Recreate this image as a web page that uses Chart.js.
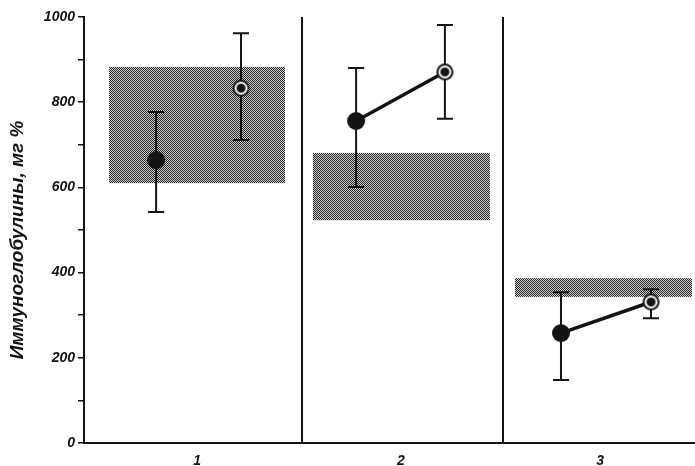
<!DOCTYPE html>
<html>
<head>
<meta charset="utf-8">
<script src="https://cdn.jsdelivr.net/npm/chart.js@4.4.1/dist/chart.umd.min.js"></script>
<style>
  html, body { margin: 0; padding: 0; background: #fff; }
  #wrap { width: 695px; height: 466px; }
</style>
</head>
<body>
<div id="wrap"><canvas id="chart" width="695" height="466"></canvas></div>
<script>
/* Immunoglobulins, mg% - three groups, before (filled) / after (ring) */

const groups = ['1', '2', '3'];
const groupX = [0.555, 1.556, 2.534];
const dividerX = [1.07, 2.057];
const yTitle = 'Иммуноглобулины, мг %';

// filled circles
const beforeX = [0.354, 1.336, 2.342];
const beforeVal = [664, 756, 258];
const beforeLow = [542, 601, 148];
const beforeHigh = [777, 880, 354];

// ring circles
const afterX = [0.771, 1.772, 2.784];
const afterVal = [833, 871, 331];
const afterLow = [711, 761, 293];
const afterHigh = [962, 981, 361];

// shaded normal ranges
const normFrom = [0.123, 1.124, 2.116];
const normTo = [0.987, 1.993, 2.985];
const normLow = [610, 523, 343];
const normHigh = [883, 681, 387];

const joined = [false, true, true];

const INK = '#141414';
const FAMILY = '"Liberation Sans", Arial, sans-serif';

function stipple(ctx) {
  const c = document.createElement('canvas');
  c.width = 2; c.height = 2;
  const g = c.getContext('2d');
  g.fillStyle = '#d0d0d0';
  g.fillRect(0, 0, 2, 2);
  g.fillStyle = '#242424';
  g.fillRect(0, 0, 1, 1);
  g.fillRect(1, 1, 1, 1);
  return ctx.createPattern(c, 'repeat');
}

function dotImg(r) {
  const c = document.createElement('canvas');
  c.width = c.height = 2 * r + 2;
  const g = c.getContext('2d');
  g.fillStyle = INK;
  g.beginPath(); g.arc(r + 1, r + 1, r, 0, Math.PI * 2); g.fill();
  return c;
}

function ringImg(r) {
  const c = document.createElement('canvas');
  c.width = c.height = 2 * r + 2;
  const g = c.getContext('2d');
  const m = r + 1;
  g.fillStyle = INK;
  g.beginPath(); g.arc(m, m, r, 0, Math.PI * 2); g.fill();
  g.fillStyle = '#fff';
  g.beginPath(); g.arc(m, m, r - 2, 0, Math.PI * 2); g.fill();
  g.fillStyle = INK;
  g.beginPath(); g.arc(m, m, r - 4, 0, Math.PI * 2); g.fill();
  return c;
}

const panels = {
  id: 'panels',
  beforeDatasetsDraw(chart) {
    const { ctx, chartArea, scales: { x, y } } = chart;
    ctx.save();

    // normal ranges
    ctx.fillStyle = stipple(ctx);
    normLow.forEach((lo, i) => {
      const x0 = x.getPixelForValue(normFrom[i]);
      const x1 = x.getPixelForValue(normTo[i]);
      const y0 = y.getPixelForValue(normHigh[i]);
      const y1 = y.getPixelForValue(lo);
      ctx.fillRect(x0, y0, x1 - x0, y1 - y0);
    });

    // dividers
    ctx.strokeStyle = INK;
    ctx.lineWidth = 2;
    dividerX.forEach(v => {
      const px = Math.round(x.getPixelForValue(v));
      ctx.beginPath();
      ctx.moveTo(px, chartArea.top);
      ctx.lineTo(px, chartArea.bottom);
      ctx.stroke();
    });

    // error bars
    const bar = (xv, lo, hi) => {
      const px = x.getPixelForValue(xv);
      const pl = y.getPixelForValue(lo);
      const ph = y.getPixelForValue(hi);
      ctx.beginPath();
      ctx.moveTo(px, pl); ctx.lineTo(px, ph);
      ctx.moveTo(px - 8, pl); ctx.lineTo(px + 8, pl);
      ctx.moveTo(px - 8, ph); ctx.lineTo(px + 8, ph);
      ctx.stroke();
    };
    beforeX.forEach((xv, i) => bar(xv, beforeLow[i], beforeHigh[i]));
    afterX.forEach((xv, i) => bar(xv, afterLow[i], afterHigh[i]));

    ctx.restore();
  },
  afterDraw(chart) {
    // axis title, sits a little below the middle like the original
    const { ctx } = chart;
    ctx.save();
    ctx.translate(18, 240);
    ctx.rotate(-Math.PI / 2);
    ctx.font = `italic bold 19px ${FAMILY}`;
    ctx.fillStyle = INK;
    ctx.textAlign = 'center';
    ctx.textBaseline = 'middle';
    ctx.fillText(yTitle, 0, 0);
    ctx.restore();
  }
};

const lineSets = [];
joined.forEach((on, i) => {
  if (!on) return;
  lineSets.push({
    data: [{ x: beforeX[i], y: beforeVal[i] }, { x: afterX[i], y: afterVal[i] }],
    showLine: true,
    borderColor: INK,
    borderWidth: 3.5,
    pointRadius: 0,
    order: 3
  });
});

const font = { family: FAMILY, style: 'italic', weight: 'bold', size: 14 };

new Chart(document.getElementById('chart'), {
  type: 'scatter',
  data: {
    datasets: [
      {
        data: beforeX.map((v, i) => ({ x: v, y: beforeVal[i] })),
        pointStyle: dotImg(9),
        order: 1
      },
      {
        data: afterX.map((v, i) => ({ x: v, y: afterVal[i] })),
        pointStyle: ringImg(8.5),
        order: 1
      },
      ...lineSets
    ]
  },
  options: {
    responsive: false,
    animation: false,
    layout: { autoPadding: false, padding: { top: 17, right: 0, left: 0, bottom: 0 } },
    plugins: { legend: { display: false }, tooltip: { enabled: false } },
    scales: {
      x: {
        type: 'linear',
        min: 0,
        max: 3,
        afterBuildTicks: s => { s.ticks = groupX.map(v => ({ value: v })); },
        afterFit: s => { s.height = 23; s.paddingLeft = 0; s.paddingRight = 0; },
        ticks: {
          callback: (v, i) => groups[i],
          color: INK,
          font: font,
          padding: 2
        },
        grid: { display: false },
        border: { color: INK, width: 2 }
      },
      y: {
        min: 0,
        max: 1000,
        afterFit: s => { s.width = 84; },
        ticks: {
          stepSize: 100,
          callback: v => (v % 200 === 0 ? v : ''),
          color: INK,
          font: font,
          padding: 3
        },
        grid: { drawOnChartArea: false, tickLength: 6, color: INK, lineWidth: 1.5 },
        border: { color: INK, width: 2 }
      }
    }
  },
  plugins: [panels]
});
</script>
</body>
</html>
